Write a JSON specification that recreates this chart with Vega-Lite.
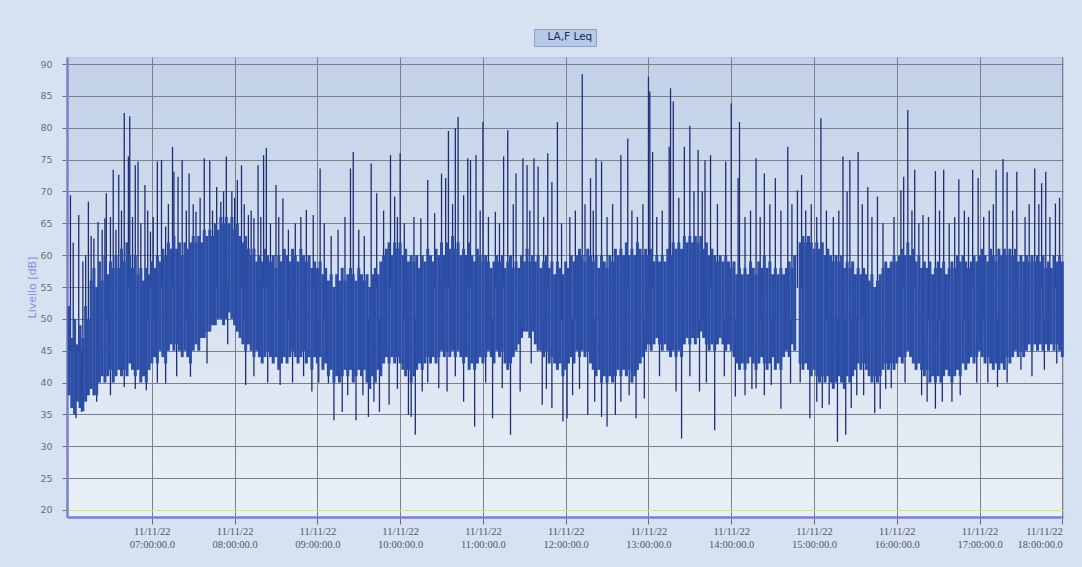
{
"$schema": "https://vega.github.io/schema/vega-lite/v6.json",
"width": 996, "height": 460, "autosize": "none",
"padding": {"left": 67, "top": 57, "right": 19, "bottom": 50},
"background": "#d6e2f1",
"datasets": {
"core": [
{"t":"06:00","lo":38,"hi":52},{"t":"06:02","lo":36,"hi":47},{"t":"06:04","lo":35,"hi":50},{"t":"06:06","lo":37,"hi":46},{"t":"06:08","lo":36,"hi":49},{"t":"06:10","lo":35.5,"hi":47},{"t":"06:12","lo":37,"hi":52},{"t":"06:14","lo":38,"hi":50},{"t":"06:16","lo":39,"hi":56},{"t":"06:18","lo":38,"hi":58},{"t":"06:20","lo":38,"hi":55},{"t":"06:22","lo":40,"hi":59},{"t":"06:24","lo":41,"hi":56},{"t":"06:26","lo":40,"hi":60},{"t":"06:28","lo":41,"hi":57},{"t":"06:30","lo":42,"hi":59},{"t":"06:32","lo":40,"hi":58},{"t":"06:34","lo":41,"hi":60},{"t":"06:36","lo":42,"hi":58},{"t":"06:38","lo":41,"hi":61},{"t":"06:40","lo":42,"hi":59},{"t":"06:42","lo":41,"hi":62},{"t":"06:44","lo":43,"hi":60},{"t":"06:46","lo":42,"hi":58},{"t":"06:48","lo":41,"hi":60},{"t":"06:50","lo":42,"hi":57},{"t":"06:52","lo":40,"hi":58},{"t":"06:54","lo":41,"hi":56},{"t":"06:56","lo":40,"hi":58},{"t":"06:58","lo":42,"hi":57},
{"t":"07:00","lo":43,"hi":59},{"t":"07:02","lo":44,"hi":58},{"t":"07:04","lo":43,"hi":60},{"t":"07:06","lo":45,"hi":59},{"t":"07:08","lo":44,"hi":61},{"t":"07:10","lo":43,"hi":60},{"t":"07:12","lo":45,"hi":62},{"t":"07:14","lo":46,"hi":61},{"t":"07:16","lo":45,"hi":63},{"t":"07:18","lo":46,"hi":61},{"t":"07:20","lo":45,"hi":62},{"t":"07:22","lo":44,"hi":60},{"t":"07:24","lo":45,"hi":62},{"t":"07:26","lo":44,"hi":61},{"t":"07:28","lo":43,"hi":62},{"t":"07:30","lo":45,"hi":63},{"t":"07:32","lo":46,"hi":62},{"t":"07:34","lo":45,"hi":63},{"t":"07:36","lo":47,"hi":62},{"t":"07:38","lo":47,"hi":64},{"t":"07:40","lo":48,"hi":63},{"t":"07:42","lo":48,"hi":64},{"t":"07:44","lo":49,"hi":63},{"t":"07:46","lo":49,"hi":65},{"t":"07:48","lo":50,"hi":64},{"t":"07:50","lo":50,"hi":66},{"t":"07:52","lo":49,"hi":65},{"t":"07:54","lo":50,"hi":66},{"t":"07:56","lo":51,"hi":65},{"t":"07:58","lo":50,"hi":66},
{"t":"08:00","lo":49,"hi":64},{"t":"08:02","lo":48,"hi":65},{"t":"08:04","lo":47,"hi":63},{"t":"08:06","lo":46,"hi":62},{"t":"08:08","lo":45,"hi":63},{"t":"08:10","lo":46,"hi":61},{"t":"08:12","lo":45,"hi":60},{"t":"08:14","lo":44,"hi":61},{"t":"08:16","lo":45,"hi":59},{"t":"08:18","lo":44,"hi":60},{"t":"08:20","lo":43,"hi":59},{"t":"08:22","lo":44,"hi":61},{"t":"08:24","lo":45,"hi":60},{"t":"08:26","lo":44,"hi":59},{"t":"08:28","lo":43,"hi":60},{"t":"08:30","lo":44,"hi":58},{"t":"08:32","lo":42,"hi":60},{"t":"08:34","lo":43,"hi":59},{"t":"08:36","lo":44,"hi":61},{"t":"08:38","lo":43,"hi":60},{"t":"08:40","lo":44,"hi":59},{"t":"08:42","lo":45,"hi":61},{"t":"08:44","lo":44,"hi":60},{"t":"08:46","lo":43,"hi":59},{"t":"08:48","lo":44,"hi":61},{"t":"08:50","lo":45,"hi":60},{"t":"08:52","lo":43,"hi":59},{"t":"08:54","lo":44,"hi":60},{"t":"08:56","lo":42,"hi":58},{"t":"08:58","lo":44,"hi":59},
{"t":"09:00","lo":43,"hi":58},{"t":"09:02","lo":44,"hi":59},{"t":"09:04","lo":42,"hi":57},{"t":"09:06","lo":43,"hi":58},{"t":"09:08","lo":41,"hi":56},{"t":"09:10","lo":42,"hi":57},{"t":"09:12","lo":40,"hi":55},{"t":"09:14","lo":41,"hi":57},{"t":"09:16","lo":40,"hi":56},{"t":"09:18","lo":41,"hi":58},{"t":"09:20","lo":42,"hi":56},{"t":"09:22","lo":41,"hi":57},{"t":"09:24","lo":42,"hi":58},{"t":"09:26","lo":40,"hi":57},{"t":"09:28","lo":41,"hi":56},{"t":"09:30","lo":42,"hi":58},{"t":"09:32","lo":41,"hi":57},{"t":"09:34","lo":42,"hi":56},{"t":"09:36","lo":40,"hi":57},{"t":"09:38","lo":39,"hi":55},{"t":"09:40","lo":41,"hi":57},{"t":"09:42","lo":40,"hi":58},{"t":"09:44","lo":42,"hi":57},{"t":"09:46","lo":41,"hi":59},{"t":"09:48","lo":43,"hi":60},{"t":"09:50","lo":44,"hi":61},{"t":"09:52","lo":43,"hi":62},{"t":"09:54","lo":44,"hi":60},{"t":"09:56","lo":43,"hi":62},{"t":"09:58","lo":44,"hi":61},
{"t":"10:00","lo":43,"hi":62},{"t":"10:02","lo":42,"hi":60},{"t":"10:04","lo":41,"hi":61},{"t":"10:06","lo":42,"hi":59},{"t":"10:08","lo":40,"hi":60},{"t":"10:10","lo":41,"hi":59},{"t":"10:12","lo":42,"hi":60},{"t":"10:14","lo":43,"hi":58},{"t":"10:16","lo":42,"hi":60},{"t":"10:18","lo":43,"hi":59},{"t":"10:20","lo":44,"hi":61},{"t":"10:22","lo":43,"hi":60},{"t":"10:24","lo":44,"hi":59},{"t":"10:26","lo":43,"hi":61},{"t":"10:28","lo":44,"hi":60},{"t":"10:30","lo":45,"hi":62},{"t":"10:32","lo":44,"hi":60},{"t":"10:34","lo":45,"hi":62},{"t":"10:36","lo":44,"hi":61},{"t":"10:38","lo":45,"hi":63},{"t":"10:40","lo":44,"hi":61},{"t":"10:42","lo":45,"hi":62},{"t":"10:44","lo":44,"hi":60},{"t":"10:46","lo":43,"hi":61},{"t":"10:48","lo":44,"hi":60},{"t":"10:50","lo":42,"hi":62},{"t":"10:52","lo":43,"hi":60},{"t":"10:54","lo":42,"hi":59},{"t":"10:56","lo":43,"hi":61},{"t":"10:58","lo":44,"hi":60},
{"t":"11:00","lo":43,"hi":59},{"t":"11:02","lo":44,"hi":60},{"t":"11:04","lo":45,"hi":59},{"t":"11:06","lo":44,"hi":58},{"t":"11:08","lo":43,"hi":59},{"t":"11:10","lo":45,"hi":60},{"t":"11:12","lo":44,"hi":59},{"t":"11:14","lo":45,"hi":60},{"t":"11:16","lo":43,"hi":58},{"t":"11:18","lo":42,"hi":59},{"t":"11:20","lo":43,"hi":60},{"t":"11:22","lo":44,"hi":58},{"t":"11:24","lo":45,"hi":59},{"t":"11:26","lo":46,"hi":58},{"t":"11:28","lo":47,"hi":60},{"t":"11:30","lo":48,"hi":59},{"t":"11:32","lo":48,"hi":61},{"t":"11:34","lo":47,"hi":59},{"t":"11:36","lo":48,"hi":60},{"t":"11:38","lo":46,"hi":59},{"t":"11:40","lo":45,"hi":60},{"t":"11:42","lo":45,"hi":58},{"t":"11:44","lo":44,"hi":59},{"t":"11:46","lo":45,"hi":60},{"t":"11:48","lo":43,"hi":58},{"t":"11:50","lo":44,"hi":59},{"t":"11:52","lo":43,"hi":57},{"t":"11:54","lo":42,"hi":59},{"t":"11:56","lo":43,"hi":58},{"t":"11:58","lo":41,"hi":57},
{"t":"12:00","lo":42,"hi":59},{"t":"12:02","lo":43,"hi":58},{"t":"12:04","lo":44,"hi":60},{"t":"12:06","lo":43,"hi":59},{"t":"12:08","lo":45,"hi":60},{"t":"12:10","lo":44,"hi":61},{"t":"12:12","lo":45,"hi":60},{"t":"12:14","lo":44,"hi":59},{"t":"12:16","lo":45,"hi":61},{"t":"12:18","lo":43,"hi":60},{"t":"12:20","lo":42,"hi":59},{"t":"12:22","lo":41,"hi":60},{"t":"12:24","lo":42,"hi":58},{"t":"12:26","lo":40,"hi":60},{"t":"12:28","lo":41,"hi":59},{"t":"12:30","lo":40,"hi":58},{"t":"12:32","lo":41,"hi":60},{"t":"12:34","lo":40,"hi":59},{"t":"12:36","lo":41,"hi":61},{"t":"12:38","lo":42,"hi":60},{"t":"12:40","lo":41,"hi":61},{"t":"12:42","lo":42,"hi":60},{"t":"12:44","lo":41,"hi":62},{"t":"12:46","lo":42,"hi":60},{"t":"12:48","lo":40,"hi":61},{"t":"12:50","lo":41,"hi":60},{"t":"12:52","lo":42,"hi":62},{"t":"12:54","lo":43,"hi":61},{"t":"12:56","lo":44,"hi":60},{"t":"12:58","lo":45,"hi":61},
{"t":"13:00","lo":46,"hi":60},{"t":"13:02","lo":45,"hi":61},{"t":"13:04","lo":46,"hi":59},{"t":"13:06","lo":47,"hi":60},{"t":"13:08","lo":46,"hi":59},{"t":"13:10","lo":45,"hi":60},{"t":"13:12","lo":46,"hi":59},{"t":"13:14","lo":45,"hi":61},{"t":"13:16","lo":44,"hi":60},{"t":"13:18","lo":45,"hi":62},{"t":"13:20","lo":44,"hi":61},{"t":"13:22","lo":45,"hi":62},{"t":"13:24","lo":44,"hi":61},{"t":"13:26","lo":46,"hi":63},{"t":"13:28","lo":47,"hi":62},{"t":"13:30","lo":46,"hi":63},{"t":"13:32","lo":47,"hi":62},{"t":"13:34","lo":46,"hi":63},{"t":"13:36","lo":47,"hi":62},{"t":"13:38","lo":48,"hi":63},{"t":"13:40","lo":47,"hi":61},{"t":"13:42","lo":46,"hi":62},{"t":"13:44","lo":45,"hi":60},{"t":"13:46","lo":46,"hi":61},{"t":"13:48","lo":45,"hi":60},{"t":"13:50","lo":46,"hi":59},{"t":"13:52","lo":47,"hi":60},{"t":"13:54","lo":46,"hi":59},{"t":"13:56","lo":45,"hi":60},{"t":"13:58","lo":46,"hi":59},
{"t":"14:00","lo":45,"hi":58},{"t":"14:02","lo":44,"hi":59},{"t":"14:04","lo":43,"hi":57},{"t":"14:06","lo":42,"hi":58},{"t":"14:08","lo":43,"hi":57},{"t":"14:10","lo":42,"hi":58},{"t":"14:12","lo":43,"hi":57},{"t":"14:14","lo":44,"hi":59},{"t":"14:16","lo":43,"hi":58},{"t":"14:18","lo":42,"hi":57},{"t":"14:20","lo":43,"hi":59},{"t":"14:22","lo":44,"hi":58},{"t":"14:24","lo":43,"hi":60},{"t":"14:26","lo":42,"hi":58},{"t":"14:28","lo":43,"hi":59},{"t":"14:30","lo":44,"hi":57},{"t":"14:32","lo":42,"hi":58},{"t":"14:34","lo":43,"hi":57},{"t":"14:36","lo":42,"hi":58},{"t":"14:38","lo":44,"hi":57},{"t":"14:40","lo":45,"hi":58},{"t":"14:42","lo":44,"hi":59},{"t":"14:44","lo":46,"hi":58},{"t":"14:46","lo":45,"hi":60},{"t":"14:50","lo":43,"hi":62},{"t":"14:52","lo":42,"hi":63},{"t":"14:54","lo":43,"hi":62},{"t":"14:56","lo":42,"hi":63},{"t":"14:58","lo":41,"hi":62},
{"t":"15:00","lo":42,"hi":61},{"t":"15:02","lo":41,"hi":62},{"t":"15:04","lo":40,"hi":61},{"t":"15:06","lo":41,"hi":62},{"t":"15:08","lo":40,"hi":60},{"t":"15:10","lo":41,"hi":61},{"t":"15:12","lo":40,"hi":60},{"t":"15:14","lo":39,"hi":59},{"t":"15:16","lo":40,"hi":60},{"t":"15:18","lo":41,"hi":59},{"t":"15:20","lo":40,"hi":60},{"t":"15:22","lo":39,"hi":58},{"t":"15:24","lo":41,"hi":59},{"t":"15:26","lo":40,"hi":58},{"t":"15:28","lo":41,"hi":59},{"t":"15:30","lo":42,"hi":57},{"t":"15:32","lo":43,"hi":58},{"t":"15:34","lo":42,"hi":57},{"t":"15:36","lo":43,"hi":58},{"t":"15:38","lo":42,"hi":57},{"t":"15:40","lo":41,"hi":56},{"t":"15:42","lo":40,"hi":57},{"t":"15:44","lo":41,"hi":55},{"t":"15:46","lo":40,"hi":56},{"t":"15:48","lo":41,"hi":57},{"t":"15:50","lo":42,"hi":58},{"t":"15:52","lo":43,"hi":59},{"t":"15:54","lo":42,"hi":58},{"t":"15:56","lo":43,"hi":59},{"t":"15:58","lo":42,"hi":60},
{"t":"16:00","lo":43,"hi":59},{"t":"16:02","lo":44,"hi":60},{"t":"16:04","lo":43,"hi":61},{"t":"16:06","lo":44,"hi":60},{"t":"16:08","lo":45,"hi":62},{"t":"16:10","lo":44,"hi":60},{"t":"16:12","lo":43,"hi":61},{"t":"16:14","lo":42,"hi":59},{"t":"16:16","lo":43,"hi":60},{"t":"16:18","lo":42,"hi":58},{"t":"16:20","lo":41,"hi":59},{"t":"16:22","lo":42,"hi":58},{"t":"16:24","lo":40,"hi":59},{"t":"16:26","lo":41,"hi":57},{"t":"16:28","lo":40,"hi":58},{"t":"16:30","lo":41,"hi":59},{"t":"16:32","lo":40,"hi":58},{"t":"16:34","lo":41,"hi":59},{"t":"16:36","lo":42,"hi":57},{"t":"16:38","lo":41,"hi":58},{"t":"16:40","lo":40,"hi":59},{"t":"16:42","lo":41,"hi":58},{"t":"16:44","lo":42,"hi":60},{"t":"16:46","lo":41,"hi":59},{"t":"16:48","lo":43,"hi":60},{"t":"16:50","lo":42,"hi":59},{"t":"16:52","lo":43,"hi":58},{"t":"16:54","lo":44,"hi":59},{"t":"16:56","lo":43,"hi":60},{"t":"16:58","lo":44,"hi":59},
{"t":"17:00","lo":45,"hi":60},{"t":"17:02","lo":44,"hi":61},{"t":"17:04","lo":43,"hi":60},{"t":"17:06","lo":44,"hi":59},{"t":"17:08","lo":43,"hi":61},{"t":"17:10","lo":42,"hi":60},{"t":"17:12","lo":43,"hi":59},{"t":"17:14","lo":42,"hi":61},{"t":"17:16","lo":43,"hi":60},{"t":"17:18","lo":42,"hi":61},{"t":"17:20","lo":44,"hi":60},{"t":"17:22","lo":43,"hi":61},{"t":"17:24","lo":44,"hi":60},{"t":"17:26","lo":45,"hi":61},{"t":"17:28","lo":44,"hi":59},{"t":"17:30","lo":45,"hi":60},{"t":"17:32","lo":44,"hi":59},{"t":"17:34","lo":45,"hi":60},{"t":"17:36","lo":46,"hi":59},{"t":"17:38","lo":45,"hi":60},{"t":"17:40","lo":46,"hi":59},{"t":"17:42","lo":45,"hi":60},{"t":"17:44","lo":46,"hi":59},{"t":"17:46","lo":45,"hi":60},{"t":"17:48","lo":46,"hi":58},{"t":"17:50","lo":45,"hi":59},{"t":"17:52","lo":46,"hi":58},{"t":"17:54","lo":45,"hi":60},{"t":"17:56","lo":46,"hi":59},{"t":"17:58","lo":45,"hi":60},{"t":"18:00","lo":44,"hi":59}
],
"spk": [
{"t":"06:01","a":45,"b":69.4},{"t":"06:03","a":45,"b":62},{"t":"06:07","a":45,"b":66.3},{"t":"06:10","a":45,"b":59},{"t":"06:14","a":45,"b":68.4},{"t":"06:18","a":50,"b":62.6},{"t":"06:21","a":50,"b":65.2},{"t":"06:26","a":50,"b":65.8},{"t":"06:27","a":50,"b":69.7},{"t":"06:32","a":55,"b":73.4},{"t":"06:36","a":55,"b":72.6},{"t":"06:40","a":55,"b":82.3},{"t":"06:43","a":55,"b":75.5},{"t":"06:44","a":55,"b":81.8},{"t":"06:48","a":55,"b":74.1},{"t":"06:50","a":55,"b":74.7},{"t":"06:55","a":55,"b":71},{"t":"06:59","a":55,"b":63.7},
{"t":"07:04","a":55,"b":74.7},{"t":"07:07","a":55,"b":74.9},{"t":"07:10","a":55,"b":64.5},{"t":"07:15","a":55,"b":77},{"t":"07:16","a":55,"b":73.1},{"t":"07:19","a":55,"b":72.3},{"t":"07:22","a":55,"b":74.9},{"t":"07:27","a":55,"b":72.8},{"t":"07:32","a":55,"b":66.8},{"t":"07:38","a":55,"b":75.2},{"t":"07:42","a":55,"b":74.8},{"t":"07:47","a":55,"b":70.7},{"t":"07:50","a":55,"b":68.4},{"t":"07:54","a":55,"b":75.5},{"t":"07:58","a":55,"b":70},
{"t":"08:02","a":55,"b":71.8},{"t":"08:05","a":55,"b":74.1},{"t":"08:10","a":55,"b":66.3},{"t":"08:14","a":55,"b":65.8},{"t":"08:17","a":55,"b":74.1},{"t":"08:21","a":55,"b":75.7},{"t":"08:23","a":55,"b":76.8},{"t":"08:30","a":55,"b":71},{"t":"08:35","a":55,"b":68.9},{"t":"08:52","a":55,"b":67.1},{"t":"08:57","a":55,"b":66.3},
{"t":"09:02","a":55,"b":73.6},{"t":"09:24","a":55,"b":73.6},{"t":"09:26","a":55,"b":76.2},{"t":"09:39","a":55,"b":74.4},{"t":"09:43","a":55,"b":69.7},{"t":"09:53","a":55,"b":75.7},{"t":"09:56","a":55,"b":69.2},
{"t":"10:00","a":55,"b":76},{"t":"10:15","a":55,"b":65.8},{"t":"10:20","a":55,"b":71.8},{"t":"10:25","a":55,"b":66.6},{"t":"10:30","a":55,"b":72.8},{"t":"10:33","a":55,"b":72.1},{"t":"10:35","a":55,"b":79.5},{"t":"10:40","a":55,"b":79.9},{"t":"10:42","a":55,"b":81.7},{"t":"10:46","a":55,"b":69.4},{"t":"10:49","a":55,"b":75.2},{"t":"10:51","a":55,"b":74.9},{"t":"10:55","a":55,"b":75.7},
{"t":"11:00","a":55,"b":80.9},{"t":"11:09","a":55,"b":66.8},{"t":"11:15","a":55,"b":75.5},{"t":"11:18","a":55,"b":79.6},{"t":"11:24","a":55,"b":72.8},{"t":"11:29","a":55,"b":75.2},{"t":"11:32","a":55,"b":74.1},{"t":"11:37","a":55,"b":75.2},{"t":"11:40","a":55,"b":73.9},{"t":"11:47","a":55,"b":76},{"t":"11:50","a":55,"b":71.5},{"t":"11:54","a":55,"b":80.9},
{"t":"12:12","a":55,"b":88.4},{"t":"12:18","a":55,"b":72.1},{"t":"12:22","a":55,"b":75.2},{"t":"12:26","a":55,"b":74.7},{"t":"12:40","a":55,"b":75.7},{"t":"12:45","a":55,"b":78.3},
{"t":"13:00","a":55,"b":88},{"t":"13:01","a":55,"b":85.7},{"t":"13:03","a":55,"b":76.2},{"t":"13:15","a":55,"b":77},{"t":"13:16","a":55,"b":86.2},{"t":"13:18","a":55,"b":84.1},{"t":"13:26","a":55,"b":77},{"t":"13:30","a":55,"b":80.3},{"t":"13:36","a":55,"b":76.5},{"t":"13:41","a":55,"b":74.9},{"t":"13:45","a":55,"b":75.7},{"t":"13:56","a":55,"b":74.7},
{"t":"14:00","a":55,"b":83.8},{"t":"14:05","a":55,"b":72.1},{"t":"14:06","a":55,"b":80.9},{"t":"14:18","a":55,"b":75.2},{"t":"14:24","a":55,"b":72.8},{"t":"14:32","a":55,"b":72.1},{"t":"14:41","a":55,"b":77},{"t":"14:48","a":55,"b":70.2},{"t":"14:51","a":55,"b":72.6},
{"t":"15:05","a":55,"b":81.5},{"t":"15:21","a":55,"b":75.5},{"t":"15:26","a":55,"b":74.9},{"t":"15:32","a":55,"b":76.2},{"t":"15:39","a":55,"b":70.7},{"t":"15:46","a":55,"b":69.2},
{"t":"16:03","a":55,"b":70.2},{"t":"16:05","a":55,"b":72.3},{"t":"16:08","a":55,"b":82.8},{"t":"16:13","a":55,"b":73.4},{"t":"16:19","a":55,"b":66.3},{"t":"16:28","a":55,"b":73.2},{"t":"16:34","a":55,"b":73.4},{"t":"16:45","a":55,"b":71.9},{"t":"16:55","a":55,"b":73.4},{"t":"16:59","a":55,"b":72.1},
{"t":"17:12","a":55,"b":73.4},{"t":"17:17","a":55,"b":75.1},{"t":"17:20","a":55,"b":73},{"t":"17:27","a":55,"b":73.1},{"t":"17:40","a":55,"b":73.6},{"t":"17:45","a":55,"b":71.3},{"t":"17:48","a":55,"b":73.1},{"t":"17:55","a":55,"b":68.1},{"t":"17:58","a":55,"b":69},
{"t":"06:12","a":45,"b":60},{"t":"06:16","a":50,"b":63},{"t":"06:24","a":50,"b":64},{"t":"06:30","a":50,"b":66},{"t":"06:34","a":50,"b":64},{"t":"06:38","a":50,"b":67},{"t":"06:46","a":50,"b":66},{"t":"06:52","a":50,"b":65},{"t":"06:57","a":50,"b":67},{"t":"07:01","a":50,"b":66},{"t":"07:12","a":50,"b":68},{"t":"07:25","a":50,"b":67},{"t":"07:30","a":50,"b":68},{"t":"07:35","a":50,"b":69},{"t":"07:44","a":50,"b":67},{"t":"07:52","a":50,"b":70},{"t":"08:00","a":50,"b":69},{"t":"08:07","a":50,"b":68},{"t":"08:12","a":50,"b":67},{"t":"08:19","a":50,"b":66},{"t":"08:26","a":50,"b":65},{"t":"08:32","a":50,"b":66},{"t":"08:39","a":50,"b":64},{"t":"08:44","a":50,"b":65},{"t":"08:48","a":50,"b":66},{"t":"09:05","a":50,"b":65},{"t":"09:10","a":50,"b":63},{"t":"09:15","a":50,"b":64},{"t":"09:20","a":50,"b":66},{"t":"09:30","a":50,"b":64},{"t":"09:34","a":50,"b":63},{"t":"09:48","a":50,"b":67},{"t":"09:58","a":50,"b":66},{"t":"10:03","a":50,"b":65},{"t":"10:10","a":50,"b":66},{"t":"10:38","a":50,"b":68},{"t":"10:58","a":50,"b":67},{"t":"11:04","a":50,"b":66},{"t":"11:12","a":50,"b":65},{"t":"11:22","a":50,"b":68},{"t":"11:34","a":50,"b":67},{"t":"11:44","a":50,"b":66},{"t":"11:57","a":50,"b":65},{"t":"12:03","a":50,"b":66},{"t":"12:07","a":50,"b":67},{"t":"12:14","a":50,"b":68},{"t":"12:20","a":50,"b":67},{"t":"12:30","a":50,"b":66},{"t":"12:34","a":50,"b":68},{"t":"12:48","a":50,"b":67},{"t":"12:52","a":50,"b":66},{"t":"12:56","a":50,"b":68},{"t":"13:06","a":50,"b":66},{"t":"13:10","a":50,"b":67},{"t":"13:22","a":50,"b":69},{"t":"13:33","a":50,"b":70},{"t":"13:39","a":50,"b":70},{"t":"13:50","a":50,"b":68},{"t":"14:10","a":50,"b":66},{"t":"14:14","a":50,"b":67},{"t":"14:21","a":50,"b":66},{"t":"14:28","a":50,"b":68},{"t":"14:36","a":50,"b":67},{"t":"14:44","a":50,"b":68},{"t":"14:54","a":50,"b":67},{"t":"14:58","a":50,"b":68},{"t":"15:02","a":50,"b":66},{"t":"15:09","a":50,"b":67},{"t":"15:14","a":50,"b":66},{"t":"15:18","a":50,"b":67},{"t":"15:24","a":50,"b":70},{"t":"15:35","a":50,"b":68},{"t":"15:42","a":50,"b":66},{"t":"15:50","a":50,"b":65},{"t":"15:58","a":50,"b":66},{"t":"16:11","a":50,"b":67},{"t":"16:16","a":50,"b":65},{"t":"16:23","a":50,"b":66},{"t":"16:31","a":50,"b":67},{"t":"16:38","a":50,"b":65},{"t":"16:42","a":50,"b":66},{"t":"16:49","a":50,"b":67},{"t":"16:52","a":50,"b":66},{"t":"17:03","a":50,"b":66},{"t":"17:07","a":50,"b":67},{"t":"17:10","a":50,"b":68},{"t":"17:24","a":50,"b":67},{"t":"17:33","a":50,"b":66},{"t":"17:36","a":50,"b":68},{"t":"17:43","a":50,"b":68},{"t":"17:51","a":50,"b":66},
{"t":"06:05","a":34.4,"b":45},{"t":"06:09","a":35.4,"b":45},{"t":"06:40","a":39.3,"b":50},{"t":"06:56","a":38.8,"b":50},{"t":"07:10","a":39.9,"b":50},{"t":"07:28","a":40.9,"b":50},{"t":"08:08","a":39.6,"b":50},{"t":"08:33","a":39.6,"b":50},{"t":"08:56","a":38.6,"b":50},{"t":"09:08","a":39.9,"b":50},{"t":"09:12","a":34.1,"b":50},{"t":"09:18","a":35.4,"b":50},{"t":"09:28","a":34.1,"b":50},{"t":"09:37","a":34.6,"b":50},{"t":"09:45","a":35.4,"b":50},{"t":"09:52","a":36.5,"b":50},{"t":"10:06","a":34.9,"b":50},{"t":"10:08","a":34.6,"b":50},{"t":"10:11","a":31.8,"b":50},{"t":"10:16","a":38.6,"b":50},{"t":"10:28","a":39.1,"b":50},{"t":"10:34","a":38.6,"b":50},{"t":"10:46","a":37,"b":50},{"t":"10:54","a":33.1,"b":50},{"t":"11:07","a":34.4,"b":50},{"t":"11:14","a":39.1,"b":50},{"t":"11:20","a":31.8,"b":50},{"t":"11:27","a":38.6,"b":50},{"t":"11:43","a":36.5,"b":50},{"t":"11:50","a":36,"b":50},{"t":"11:58","a":33.9,"b":50},{"t":"12:01","a":34.4,"b":50},{"t":"12:16","a":34.9,"b":50},{"t":"12:26","a":34.6,"b":50},{"t":"12:30","a":33.1,"b":50},{"t":"12:36","a":34.9,"b":50},{"t":"12:51","a":34.4,"b":50},{"t":"12:57","a":37.5,"b":50},{"t":"13:20","a":38.6,"b":50},{"t":"13:24","a":31.2,"b":50},{"t":"13:37","a":38.6,"b":50},{"t":"13:48","a":32.5,"b":50},{"t":"14:03","a":37.8,"b":50},{"t":"14:10","a":38,"b":50},{"t":"14:18","a":39.1,"b":50},{"t":"14:29","a":39.6,"b":50},{"t":"14:36","a":35.9,"b":50},{"t":"14:43","a":39.9,"b":50},{"t":"14:57","a":34.4,"b":50},{"t":"15:11","a":36.5,"b":50},{"t":"15:17","a":30.7,"b":50},{"t":"15:23","a":31.8,"b":50},{"t":"15:31","a":38,"b":50},{"t":"15:44","a":35.2,"b":50},{"t":"15:48","a":35.9,"b":50},{"t":"15:56","a":39.1,"b":50},{"t":"16:28","a":35.9,"b":50},{"t":"16:40","a":37,"b":50},{"t":"17:13","a":39.3,"b":50},{"t":"17:30","a":42,"b":50},
{"t":"06:20","a":37,"b":50},{"t":"06:30","a":38,"b":50},{"t":"06:48","a":39,"b":50},{"t":"07:04","a":40,"b":50},{"t":"07:18","a":41,"b":50},{"t":"07:40","a":43,"b":50},{"t":"07:55","a":46,"b":55},{"t":"08:14","a":41,"b":50},{"t":"08:24","a":40,"b":50},{"t":"08:42","a":40,"b":50},{"t":"08:50","a":41,"b":50},{"t":"09:01","a":40,"b":50},{"t":"09:22","a":38,"b":50},{"t":"09:33","a":38,"b":50},{"t":"09:41","a":37,"b":50},{"t":"09:58","a":39,"b":50},{"t":"10:20","a":40,"b":50},{"t":"10:40","a":41,"b":50},{"t":"11:02","a":40,"b":50},{"t":"11:35","a":43,"b":50},{"t":"11:46","a":39,"b":50},{"t":"12:05","a":38,"b":50},{"t":"12:10","a":39,"b":50},{"t":"12:21","a":37,"b":50},{"t":"12:40","a":37,"b":50},{"t":"12:46","a":38,"b":50},{"t":"13:08","a":41,"b":50},{"t":"13:30","a":41,"b":50},{"t":"13:42","a":40,"b":50},{"t":"13:55","a":41,"b":50},{"t":"14:15","a":39,"b":50},{"t":"14:24","a":38,"b":50},{"t":"14:50","a":40,"b":50},{"t":"15:02","a":37,"b":50},{"t":"15:06","a":36,"b":50},{"t":"15:27","a":36,"b":50},{"t":"15:36","a":38,"b":50},{"t":"15:52","a":39,"b":50},{"t":"16:06","a":40,"b":50},{"t":"16:18","a":38,"b":50},{"t":"16:22","a":37,"b":50},{"t":"16:33","a":37,"b":50},{"t":"16:46","a":38,"b":50},{"t":"16:58","a":40,"b":50},{"t":"17:06","a":40,"b":50},{"t":"17:20","a":40,"b":50},{"t":"17:38","a":41,"b":50},{"t":"17:47","a":42,"b":50},{"t":"17:56","a":43,"b":50}
]
},
"encoding": {
"x": {"field": "t", "type": "temporal", "title": null,
 "scale": {"domain": [{"year":1900,"month":1,"date":1,"hours":5,"minutes":58,"seconds":30},{"year":1900,"month":1,"date":1,"hours":18,"minutes":0,"seconds":30}]},
 "axis": {
  "values": [
   {"year":1900,"month":1,"date":1,"hours":7},{"year":1900,"month":1,"date":1,"hours":8},{"year":1900,"month":1,"date":1,"hours":9},{"year":1900,"month":1,"date":1,"hours":10},{"year":1900,"month":1,"date":1,"hours":11},{"year":1900,"month":1,"date":1,"hours":12},{"year":1900,"month":1,"date":1,"hours":13},{"year":1900,"month":1,"date":1,"hours":14},{"year":1900,"month":1,"date":1,"hours":15},{"year":1900,"month":1,"date":1,"hours":16},{"year":1900,"month":1,"date":1,"hours":17},{"year":1900,"month":1,"date":1,"hours":18}],
  "labelExpr": "['11/11/22', timeFormat(datum.value, '%H:%M:%S') + '.0']",
  "labelFont": "Liberation Serif", "labelFontSize": 10.5, "labelColor": "#4f5566", "labelLineHeight": 13,
  "labelPadding": 2, "tickSize": 7, "tickColor": "#6b6f78", "labelOverlap": false,
  "domainColor": "#7c80c8", "domainWidth": 2.5,
  "grid": true, "gridColor": "#7b818c", "gridWidth": 1
 }}
},
"layer": [
 {"data": {"name": "spk", "format": {"parse": {"t": "date:'%H:%M'"}}},
  "mark": {"type": "rule", "color": "#1d2d78", "strokeWidth": 1.3},
  "encoding": {
   "y": {"field": "a", "type": "quantitative", "scale": {"domain": [18.9, 91.1], "nice": false, "zero": false},
    "axis": {"title": "Livello [dB]", "values": [20,25,30,35,40,45,50,55,60,65,70,75,80,85,90], "labelOverlap": false,
     "labelFont": "DejaVu Sans", "labelFontSize": 9.5, "labelColor": "#6a6d75", "labelPadding": 10,
     "tickSize": 5, "tickColor": "#6b6f78",
     "domainColor": "#7c80c8", "domainWidth": 2.5,
     "grid": true, "gridColor": {"condition": {"test": "datum.value === 20", "value": "#d8dbb0"}, "value": "#7b818c"}, "gridWidth": 1,
     "titleFont": "DejaVu Sans", "titleFontSize": 11, "titleFontWeight": "normal", "titleColor": "#8a8fd6", "titlePadding": 2}},
   "y2": {"field": "b"}}},
 {"data": {"name": "core", "format": {"parse": {"t": "date:'%H:%M'"}}},
  "mark": {"type": "rule", "strokeWidth": 3},
  "encoding": {
   "y": {"field": "lo", "type": "quantitative", "scale": {"domain": [18.9, 91.1], "nice": false, "zero": false},
    "axis": {"title": "Livello [dB]", "values": [20,25,30,35,40,45,50,55,60,65,70,75,80,85,90], "labelOverlap": false,
     "labelFont": "DejaVu Sans", "labelFontSize": 9.5, "labelColor": "#6a6d75", "labelPadding": 10,
     "tickSize": 5, "tickColor": "#6b6f78",
     "domainColor": "#7c80c8", "domainWidth": 2.5,
     "grid": true, "gridColor": {"condition": {"test": "datum.value === 20", "value": "#d8dbb0"}, "value": "#7b818c"}, "gridWidth": 1,
     "titleFont": "DejaVu Sans", "titleFontSize": 11, "titleFontWeight": "normal", "titleColor": "#8a8fd6", "titlePadding": 2}},
   "y2": {"field": "hi"},
   "color": {"datum": "LA,F Leq", "scale": {"range": ["#2c4ea6"]},
    "legend": {"title": null, "orient": "top", "offset": 11, "padding": 3, "fillColor": "#b6cae8", "strokeColor": "#8ba1cc",
     "symbolSize": 0, "symbolStrokeWidth": 0, "symbolOpacity": 0, "labelOffset": 0,
     "labelFont": "DejaVu Sans", "labelFontSize": 10.5, "labelColor": "#1c2755"}}}}
],
"config": {
 "view": {"fill": {"gradient": "linear", "x1": 0, "y1": 0, "x2": 0, "y2": 1, "stops": [{"offset": 0, "color": "#c2d1e8"}, {"offset": 1, "color": "#eaf0f7"}]}, "stroke": "#b9c5da"},
 "legend": {"layout": {"top": {"anchor": "middle"}}}
}
}
